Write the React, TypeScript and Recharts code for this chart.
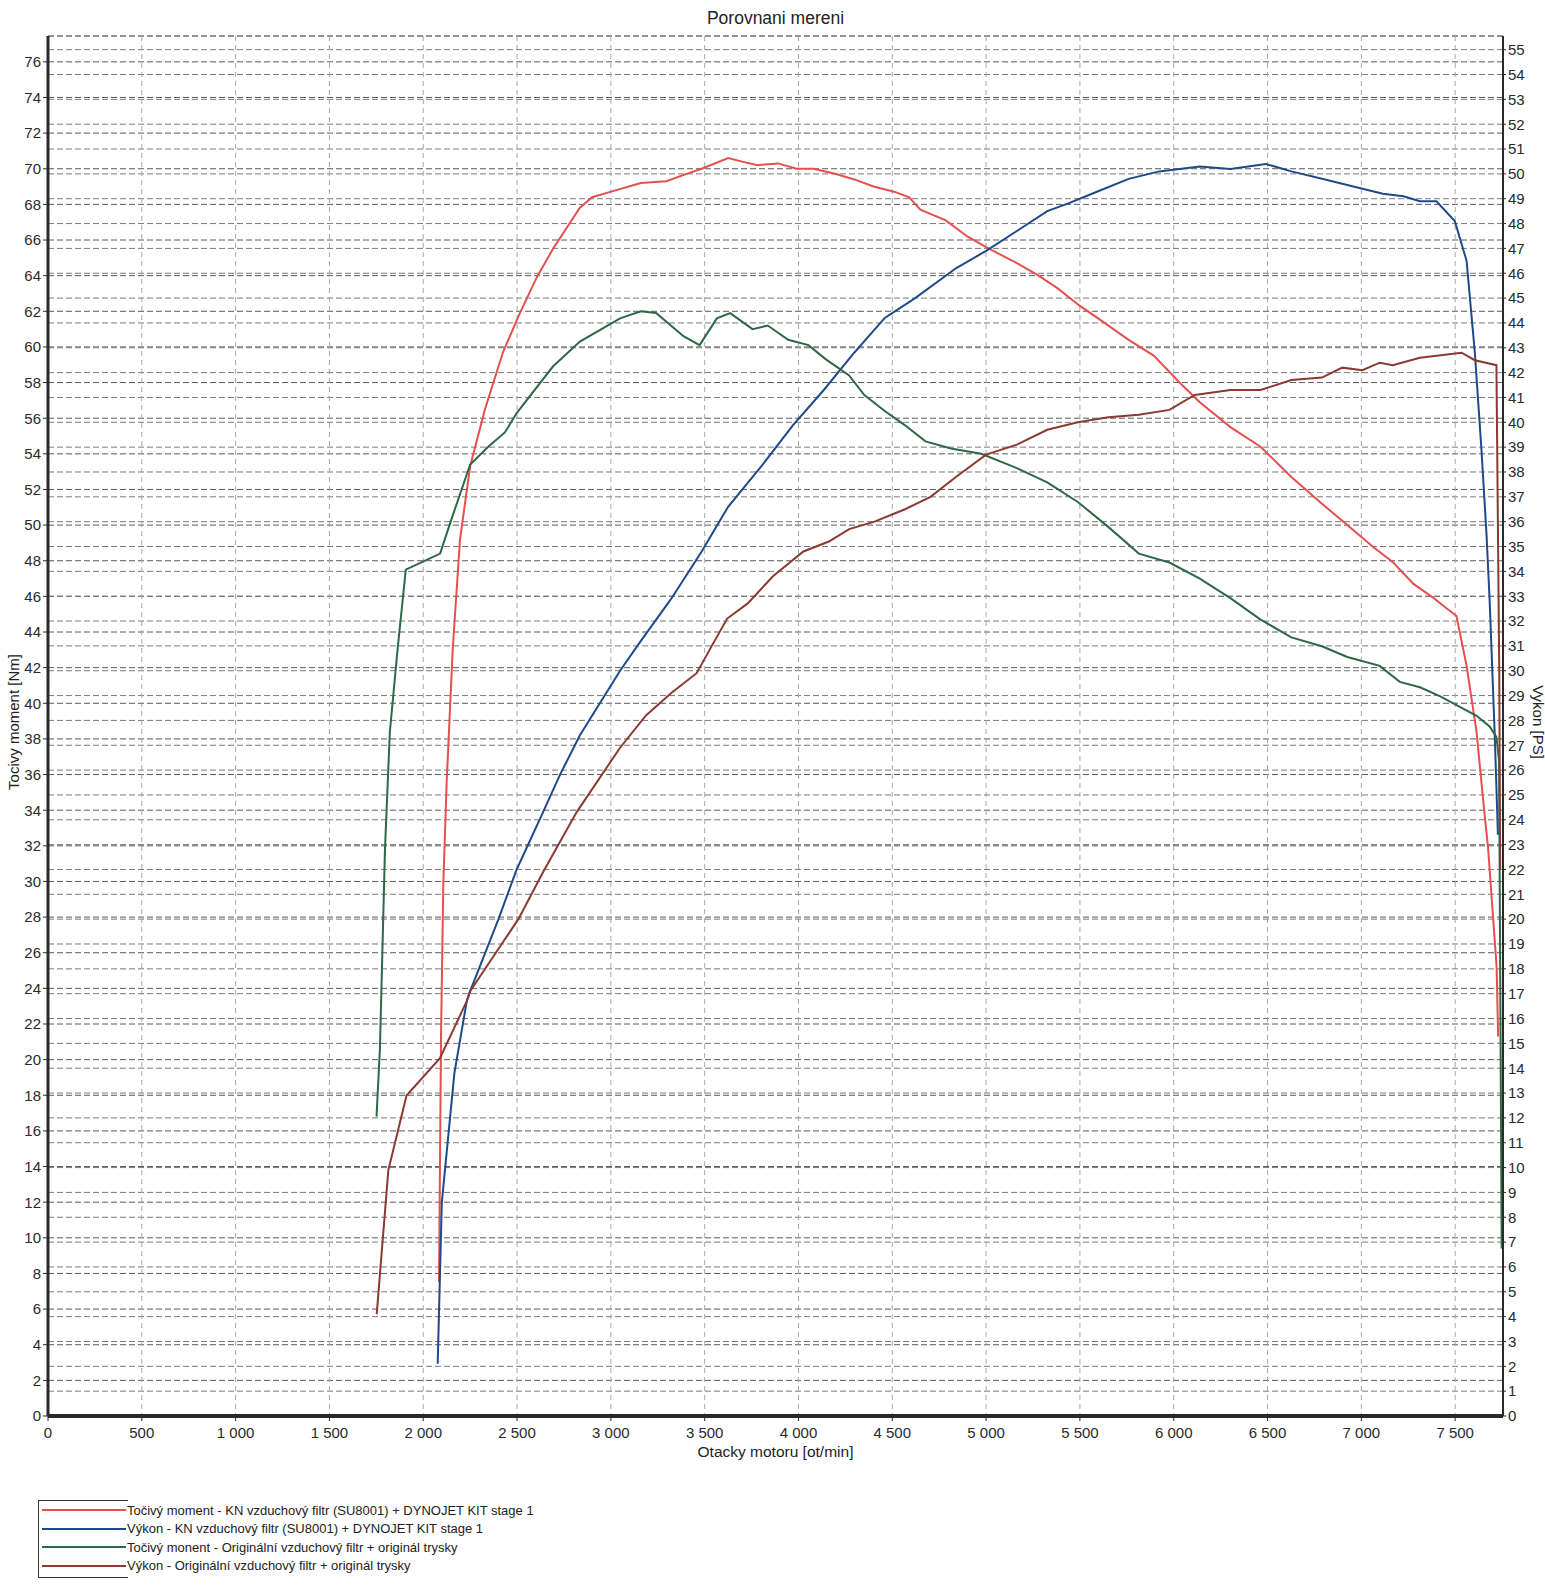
import { LineChart, Line, XAxis, YAxis, CartesianGrid } from "recharts";

// [rpm, Nm] / [rpm, PS] pairs
const knTorque: [number, number][] = [
  [2084, 7.5], [2095, 21.5], [2107, 29.9], [2125, 35.6], [2157, 43.0], [2196, 49.2],
  [2250, 53.3], [2329, 56.5], [2425, 59.7], [2515, 61.9], [2605, 63.9], [2691, 65.5],
  [2834, 67.8], [2900, 68.4], [2997, 68.7], [3160, 69.2], [3295, 69.3], [3400, 69.7],
  [3484, 70.0], [3625, 70.6], [3700, 70.4], [3782, 70.2], [3891, 70.3], [3990, 70.0],
  [4081, 70.0], [4200, 69.7], [4297, 69.4], [4400, 69.0], [4514, 68.7], [4590, 68.4],
  [4650, 67.7], [4785, 67.1], [4900, 66.2], [5000, 65.6], [5164, 64.7], [5280, 64.0],
  [5380, 63.3], [5500, 62.3], [5597, 61.6], [5760, 60.4], [5895, 59.5], [6031, 58.0],
  [6139, 56.9], [6302, 55.5], [6463, 54.4], [6627, 52.7], [6790, 51.2], [6925, 50.0],
  [7060, 48.8], [7170, 47.9], [7278, 46.7], [7386, 45.9], [7445, 45.4], [7507, 44.9],
  [7561, 42.1], [7614, 38.4], [7649, 34.6], [7676, 31.8], [7702, 28.0], [7721, 25.2],
  [7729, 21.3],
];

const knPower: [number, number][] = [
  [2077, 2.1], [2099, 8.6], [2166, 13.8], [2232, 16.7], [2250, 17.1], [2401, 20.0],
  [2498, 22.0], [2632, 24.2], [2728, 25.8], [2835, 27.4], [3049, 30.0], [3160, 31.2],
  [3322, 32.9], [3484, 34.8], [3625, 36.6], [3809, 38.3], [3972, 39.9], [4135, 41.3],
  [4297, 42.8], [4460, 44.2], [4622, 45.0], [4839, 46.2], [5000, 46.9], [5164, 47.7],
  [5326, 48.5], [5435, 48.8], [5597, 49.3], [5760, 49.8], [5923, 50.1], [6139, 50.3],
  [6302, 50.2], [6491, 50.4], [6627, 50.1], [6790, 49.8], [6952, 49.5], [7115, 49.2],
  [7224, 49.1], [7312, 48.9], [7400, 48.9], [7498, 48.1], [7561, 46.5], [7605, 42.8],
  [7641, 38.8], [7667, 35.5], [7684, 32.8], [7711, 27.4], [7728, 23.4],
];

const origTorque: [number, number][] = [
  [1751, 16.8], [1769, 20.6], [1796, 31.8], [1822, 38.4], [1863, 43.0], [1907, 47.5],
  [2090, 48.4], [2143, 50.1], [2250, 53.4], [2346, 54.4], [2435, 55.2], [2499, 56.3],
  [2691, 58.9], [2835, 60.3], [3049, 61.6], [3160, 62.0], [3241, 61.9], [3387, 60.6],
  [3473, 60.1], [3565, 61.6], [3636, 61.9], [3755, 61.0], [3836, 61.2], [3945, 60.4],
  [4053, 60.1], [4146, 59.3], [4270, 58.4], [4351, 57.3], [4460, 56.4], [4568, 55.6],
  [4677, 54.7], [4812, 54.3], [4974, 54.0], [5164, 53.2], [5326, 52.4], [5489, 51.3],
  [5651, 49.9], [5814, 48.4], [5977, 47.9], [6139, 47.0], [6302, 45.9], [6463, 44.7],
  [6627, 43.7], [6790, 43.2], [6925, 42.6], [7098, 42.1], [7205, 41.2], [7312, 40.9],
  [7418, 40.4], [7525, 39.8], [7614, 39.3], [7684, 38.7], [7720, 38.1], [7734, 36.8],
  [7748, 9.4],
];

const origPower: [number, number][] = [
  [1752, 4.1], [1814, 9.9], [1911, 12.9], [2089, 14.4], [2232, 16.7], [2250, 17.1],
  [2427, 19.1], [2507, 20.0], [2639, 21.9], [2817, 24.3], [3049, 26.9], [3187, 28.2],
  [3322, 29.1], [3457, 29.9], [3538, 31.0], [3620, 32.1], [3728, 32.7], [3864, 33.8],
  [4026, 34.8], [4162, 35.2], [4270, 35.7], [4405, 36.0], [4568, 36.5], [4704, 37.0],
  [4839, 37.8], [5000, 38.7], [5164, 39.1], [5326, 39.7], [5489, 40.0], [5651, 40.2],
  [5814, 40.3], [5977, 40.5], [6112, 41.1], [6302, 41.3], [6463, 41.3], [6627, 41.7],
  [6790, 41.8], [6898, 42.2], [7006, 42.1], [7098, 42.4], [7168, 42.3], [7312, 42.6],
  [7534, 42.8], [7605, 42.5], [7720, 42.3], [7735, 30.0], [7740, 22.0],
];

const rpmTicks = [0, 500, 1000, 1500, 2000, 2500, 3000, 3500, 4000, 4500, 5000, 5500, 6000, 6500, 7000, 7500];
const nmTicks = Array.from({ length: 39 }, (_, i) => i * 2);
const psTicks = Array.from({ length: 56 }, (_, i) => i);

const legendItems = [
  { name: "Točivý moment - KN vzduchový filtr (SU8001) + DYNOJET KIT stage 1", color: "#e5504f" },
  { name: "Výkon - KN vzduchový filtr (SU8001) + DYNOJET KIT stage 1", color: "#1f4a8a" },
  { name: "Točivý monent - Originální vzduchový filtr + originál trysky", color: "#2f6846" },
  { name: "Výkon - Originální vzduchový filtr + originál trysky", color: "#8a3a33" },
];

const toRows = (pts: [number, number][]) => pts.map(([rpm, v]) => ({ rpm, v }));

const fmtRpm = (v: number) =>
  v >= 1000 ? `${Math.floor(v / 1000)} ${String(v % 1000).padStart(3, "0")}` : String(v);

const font = "'Liberation Sans', Arial, sans-serif";
const tickStyle = { fontSize: 15, fill: "#2a2a2a", fontFamily: font };

export default function App() {
  return (
    <div
      style={{
        position: "absolute",
        left: 0,
        top: 0,
        width: 1545,
        height: 1595,
        background: "#fff",
        fontFamily: font,
        color: "#222",
      }}
    >
      <div style={{ position: "absolute", left: 0, width: 1551, top: 8, textAlign: "center", fontSize: 17.5 }}>
        Porovnani mereni
      </div>

      <LineChart
        width={1545}
        height={1470}
        margin={{ top: 36, right: 2, left: 8, bottom: 14 }}
      >
        <CartesianGrid yAxisId="left" vertical={false} stroke="#5a5a5a" strokeDasharray="6 3" />
        <CartesianGrid yAxisId="right" vertical={false} stroke="#7a7a7a" strokeDasharray="6 3" />
        <CartesianGrid yAxisId="left" horizontal={false} stroke="#a8a8a8" strokeDasharray="5 4" />
        <XAxis
          dataKey="rpm"
          type="number"
          domain={[0, 7755]}
          ticks={rpmTicks}
          tickFormatter={fmtRpm}
          allowDataOverflow
          height={40}
          tick={tickStyle}
          tickSize={5}
          tickMargin={6}
          axisLine={{ stroke: "#2a2a2a", strokeWidth: 4 }}
          tickLine={{ stroke: "#2a2a2a" }}
        />
        <XAxis
          xAxisId="top"
          orientation="top"
          type="number"
          domain={[0, 7755]}
          height={0}
          tick={false}
          tickLine={false}
          axisLine={{ stroke: "#2a2a2a", strokeWidth: 2 }}
        />
        <YAxis
          yAxisId="left"
          type="number"
          domain={[0, 77.45]}
          ticks={nmTicks.filter((t) => t <= 76)}
          allowDataOverflow
          width={40}
          tick={tickStyle}
          tickSize={5}
          tickMargin={2}
          axisLine={{ stroke: "#2a2a2a", strokeWidth: 3 }}
          tickLine={{ stroke: "#2a2a2a" }}
        />
        <YAxis
          yAxisId="right"
          orientation="right"
          type="number"
          domain={[0, 55.55]}
          ticks={psTicks}
          allowDataOverflow
          width={40}
          tick={tickStyle}
          tickSize={3}
          tickMargin={2}
          axisLine={{ stroke: "#2a2a2a", strokeWidth: 2 }}
          tickLine={{ stroke: "#2a2a2a" }}
        />
        <Line yAxisId="left" data={toRows(knTorque)} dataKey="v" type="linear" stroke={legendItems[0].color} strokeWidth={2} dot={false} isAnimationActive={false} />
        <Line yAxisId="right" data={toRows(knPower)} dataKey="v" type="linear" stroke={legendItems[1].color} strokeWidth={2} dot={false} isAnimationActive={false} />
        <Line yAxisId="left" data={toRows(origTorque)} dataKey="v" type="linear" stroke={legendItems[2].color} strokeWidth={2} dot={false} isAnimationActive={false} />
        <Line yAxisId="right" data={toRows(origPower)} dataKey="v" type="linear" stroke={legendItems[3].color} strokeWidth={2} dot={false} isAnimationActive={false} />
      </LineChart>

      <div
        style={{
          position: "absolute",
          left: 13,
          top: 722,
          fontSize: 15,
          whiteSpace: "nowrap",
          transform: "translate(-50%, -50%) rotate(-90deg)",
        }}
      >
        Tocivy moment [Nm]
      </div>
      <div
        style={{
          position: "absolute",
          left: 1538,
          top: 722,
          fontSize: 15,
          whiteSpace: "nowrap",
          transform: "translate(-50%, -50%) rotate(90deg)",
        }}
      >
        Vykon [PS]
      </div>
      <div style={{ position: "absolute", left: 0, width: 1551, top: 1443, textAlign: "center", fontSize: 15.5 }}>
        Otacky motoru [ot/min]
      </div>

      <div
        style={{
          position: "absolute",
          left: 38,
          top: 1500,
          width: 89,
          height: 76,
          borderTop: "1.5px solid #333",
          borderLeft: "1.5px solid #333",
          borderBottom: "1.5px solid #333",
        }}
      />
      {legendItems.map((it, i) => (
        <div key={it.name} style={{ position: "absolute", left: 42, top: 1501 + i * 18.5, height: 18, display: "flex", alignItems: "center" }}>
          <div style={{ width: 84, height: 2, background: it.color }} />
          <span style={{ fontSize: 13, marginLeft: 1, whiteSpace: "nowrap" }}>{it.name}</span>
        </div>
      ))}
    </div>
  );
}
